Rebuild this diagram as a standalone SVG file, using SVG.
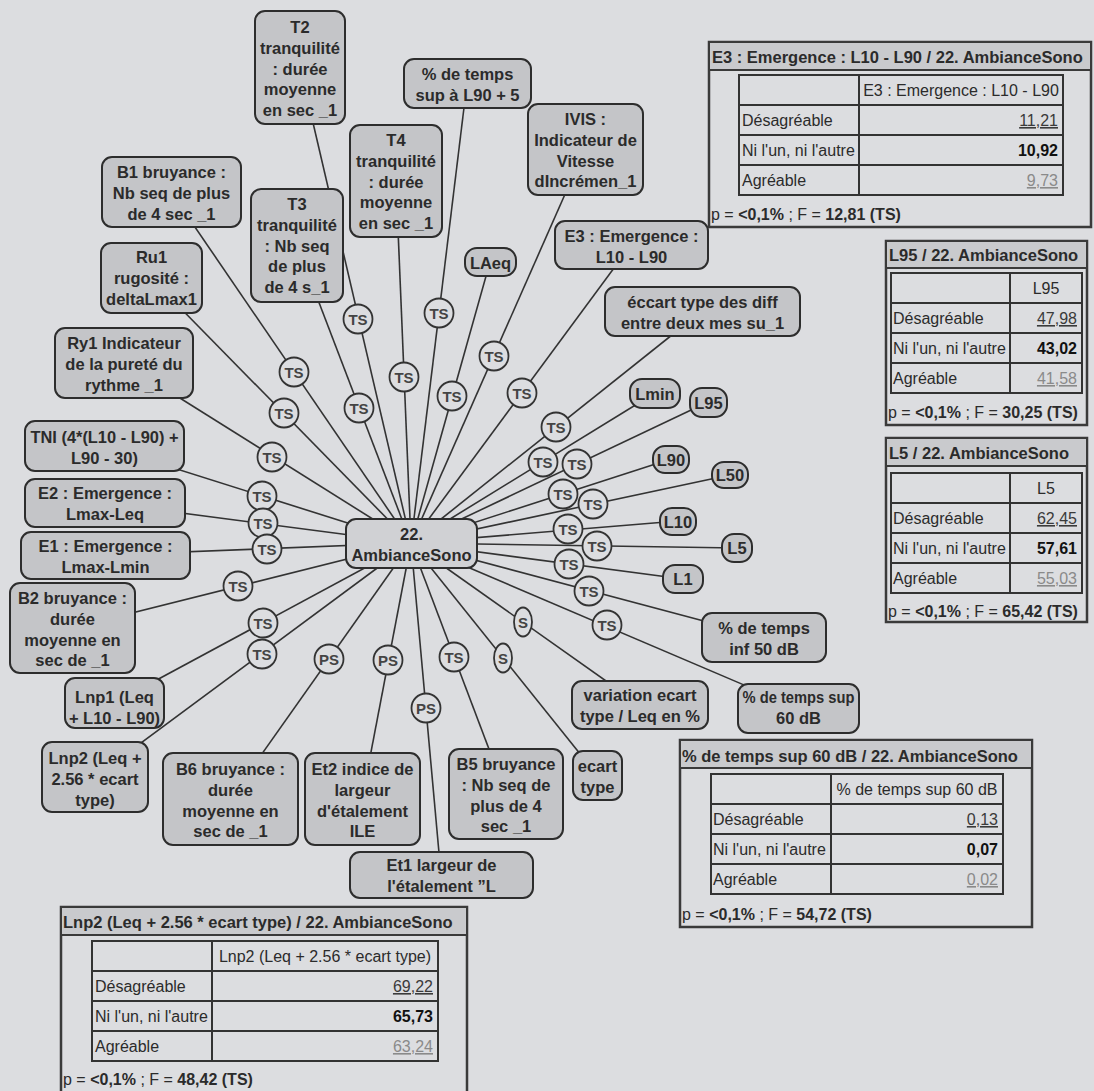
<svg xmlns="http://www.w3.org/2000/svg" width="1094" height="1091" viewBox="0 0 1094 1091">
<style>
.node rect{fill:#c4c5c8;stroke:#2d2d2d;stroke-width:2}
.node text{font-family:"Liberation Sans",Arial,sans-serif;font-weight:bold;font-size:16.5px;fill:#2b2b2b;text-anchor:middle}
.hub rect{fill:#d0d1d4;stroke:#2d2d2d;stroke-width:2}
.conn line{stroke:#333;stroke-width:1.6}
.mk circle,.mk ellipse{fill:#dcdde0;stroke:#333;stroke-width:1.8}
.mk text{font-family:"Liberation Sans",Arial,sans-serif;font-weight:bold;font-size:15px;fill:#444;text-anchor:middle}
.tbox{fill:#dcdde0;stroke:#3a3a3a;stroke-width:2.5}
.thead{fill:#c9cacd;stroke:#3a3a3a;stroke-width:2}
.grid{fill:none;stroke:#333;stroke-width:2}
.ttl{font-family:"Liberation Sans",Arial,sans-serif;font-weight:bold;font-size:16.5px;fill:#2b2b2b}
.cell{font-family:"Liberation Sans",Arial,sans-serif;font-size:16px;fill:#2b2b2b}
.hd{text-anchor:middle}
.v1{text-anchor:end;text-decoration:underline;fill:#3a3a3a}
.v2{text-anchor:end;font-weight:bold;fill:#111}
.v3{text-anchor:end;text-decoration:underline;fill:#8a8a8a}
.b{font-weight:bold}
</style>
<rect width="1094" height="1091" fill="#dcdde0"/>

<g id="connectors">
<g class="conn">
<line x1="411" y1="543" x2="300" y2="67"/>
<line x1="411" y1="543" x2="297" y2="245"/>
<line x1="411" y1="543" x2="396" y2="181"/>
<line x1="411" y1="543" x2="467" y2="83"/>
<line x1="411" y1="543" x2="585" y2="149"/>
<line x1="411" y1="543" x2="631" y2="245"/>
<line x1="411" y1="543" x2="490" y2="262"/>
<line x1="411" y1="543" x2="702" y2="311"/>
<line x1="411" y1="543" x2="655" y2="393"/>
<line x1="411" y1="543" x2="708" y2="402"/>
<line x1="411" y1="543" x2="671" y2="459"/>
<line x1="411" y1="543" x2="730" y2="475"/>
<line x1="411" y1="543" x2="678" y2="521"/>
<line x1="411" y1="543" x2="737" y2="548"/>
<line x1="411" y1="543" x2="683" y2="579"/>
<line x1="411" y1="543" x2="764" y2="637"/>
<line x1="411" y1="543" x2="798" y2="708"/>
<line x1="411" y1="543" x2="640" y2="705"/>
<line x1="411" y1="543" x2="597" y2="775"/>
<line x1="411" y1="543" x2="506" y2="794"/>
<line x1="411" y1="543" x2="441" y2="875"/>
<line x1="411" y1="543" x2="362" y2="799"/>
<line x1="411" y1="543" x2="230" y2="799"/>
<line x1="411" y1="543" x2="95" y2="777"/>
<line x1="411" y1="543" x2="114" y2="703"/>
<line x1="411" y1="543" x2="72" y2="628"/>
<line x1="411" y1="543" x2="105" y2="555"/>
<line x1="411" y1="543" x2="105" y2="503"/>
<line x1="411" y1="543" x2="104" y2="446"/>
<line x1="411" y1="543" x2="124" y2="363"/>
<line x1="411" y1="543" x2="151" y2="278"/>
<line x1="411" y1="543" x2="171" y2="192"/>
</g>
<g class="mk">
<circle cx="358" cy="319" r="14.5"/><text x="358" y="324.5">TS</text>
<circle cx="439" cy="313" r="14.5"/><text x="439" y="318.5">TS</text>
<circle cx="404" cy="377" r="14.5"/><text x="404" y="382.5">TS</text>
<circle cx="452" cy="396" r="14.5"/><text x="452" y="401.5">TS</text>
<circle cx="494" cy="356" r="14.5"/><text x="494" y="361.5">TS</text>
<circle cx="522" cy="393" r="14.5"/><text x="522" y="398.5">TS</text>
<circle cx="359" cy="408" r="14.5"/><text x="359" y="413.5">TS</text>
<circle cx="294" cy="372" r="14.5"/><text x="294" y="377.5">TS</text>
<circle cx="284" cy="413" r="14.5"/><text x="284" y="418.5">TS</text>
<circle cx="272" cy="457" r="14.5"/><text x="272" y="462.5">TS</text>
<circle cx="262" cy="496" r="14.5"/><text x="262" y="501.5">TS</text>
<circle cx="263" cy="523" r="14.5"/><text x="263" y="528.5">TS</text>
<circle cx="267" cy="549" r="14.5"/><text x="267" y="554.5">TS</text>
<circle cx="238" cy="586" r="14.5"/><text x="238" y="591.5">TS</text>
<circle cx="263" cy="623" r="14.5"/><text x="263" y="628.5">TS</text>
<circle cx="262" cy="654" r="14.5"/><text x="262" y="659.5">TS</text>
<circle cx="454" cy="657" r="14.5"/><text x="454" y="662.5">TS</text>
<circle cx="556" cy="427" r="14.5"/><text x="556" y="432.5">TS</text>
<circle cx="543" cy="462" r="14.5"/><text x="543" y="467.5">TS</text>
<circle cx="577" cy="464" r="14.5"/><text x="577" y="469.5">TS</text>
<circle cx="563" cy="494" r="14.5"/><text x="563" y="499.5">TS</text>
<circle cx="593" cy="504" r="14.5"/><text x="593" y="509.5">TS</text>
<circle cx="568" cy="529" r="14.5"/><text x="568" y="534.5">TS</text>
<circle cx="597" cy="546" r="14.5"/><text x="597" y="551.5">TS</text>
<circle cx="569" cy="564" r="14.5"/><text x="569" y="569.5">TS</text>
<circle cx="589" cy="591" r="14.5"/><text x="589" y="596.5">TS</text>
<circle cx="607" cy="625" r="14.5"/><text x="607" y="630.5">TS</text>
<circle cx="329" cy="659" r="14.5"/><text x="329" y="664.5">PS</text>
<circle cx="388" cy="660" r="14.5"/><text x="388" y="665.5">PS</text>
<circle cx="426" cy="708" r="14.5"/><text x="426" y="713.5">PS</text>
<ellipse cx="503" cy="658" rx="9" ry="14.5"/><text x="503" y="663.5">S</text>
<ellipse cx="523" cy="622" rx="9" ry="14.5"/><text x="523" y="627.5">S</text>
</g>
</g>

<g id="n-T2" class="node"><rect x="255" y="11" width="90" height="113" rx="10"/><text x="300" y="33">T2<tspan x="300" dy="20.8">tranquilité</tspan><tspan x="300" dy="20.8">: durée</tspan><tspan x="300" dy="20.8">moyenne</tspan><tspan x="300" dy="20.8">en sec _1</tspan></text></g>
<g id="n-T3" class="node"><rect x="251" y="189" width="92" height="113" rx="10"/><text x="297" y="210">T3<tspan x="297" dy="20.8">tranquilité</tspan><tspan x="297" dy="20.8">: Nb seq</tspan><tspan x="297" dy="20.8">de plus</tspan><tspan x="297" dy="20.8">de 4 s_1</tspan></text></g>
<g id="n-T4" class="node"><rect x="350" y="125" width="92" height="112" rx="10"/><text x="396" y="146">T4<tspan x="396" dy="20.8">tranquilité</tspan><tspan x="396" dy="20.8">: durée</tspan><tspan x="396" dy="20.8">moyenne</tspan><tspan x="396" dy="20.8">en sec _1</tspan></text></g>
<g id="n-L90p5" class="node"><rect x="404" y="59" width="127" height="49" rx="10"/><text x="467.5" y="80">% de temps<tspan x="467.5" dy="20.8">sup à L90 + 5</tspan></text></g>
<g id="n-IVIS" class="node"><rect x="528" y="104" width="115" height="91" rx="10"/><text x="585.5" y="125">IVIS :<tspan x="585.5" dy="20.8">Indicateur de</tspan><tspan x="585.5" dy="20.8">Vitesse</tspan><tspan x="585.5" dy="20.8">dIncrémen_1</tspan></text></g>
<g id="n-E3" class="node"><rect x="555" y="221" width="153" height="48" rx="10"/><text x="631.5" y="242">E3 : Emergence :<tspan x="631.5" dy="20.8">L10 - L90</tspan></text></g>
<g id="n-LAeq" class="node"><rect x="465" y="248" width="51" height="28" rx="12"/><text x="490.5" y="268.5">LAeq</text></g>
<g id="n-ecartdiff" class="node"><rect x="605" y="287" width="195" height="49" rx="10"/><text x="702.5" y="308">éccart type des diff<tspan x="702.5" dy="20.8">entre deux mes su_1</tspan></text></g>
<g id="n-Lmin" class="node"><rect x="630" y="379" width="50" height="29" rx="12"/><text x="655" y="399.5">Lmin</text></g>
<g id="n-L95" class="node"><rect x="690" y="388" width="37" height="29" rx="12"/><text x="708.5" y="408.5">L95</text></g>
<g id="n-L90" class="node"><rect x="653" y="446" width="36" height="27" rx="12"/><text x="671" y="465.5">L90</text></g>
<g id="n-L50" class="node"><rect x="712" y="462" width="36" height="26" rx="12"/><text x="730" y="481">L50</text></g>
<g id="n-L10" class="node"><rect x="660" y="508" width="36" height="27" rx="12"/><text x="678" y="527.5">L10</text></g>
<g id="n-L5" class="node"><rect x="722" y="534" width="30" height="28" rx="12"/><text x="737" y="554">L5</text></g>
<g id="n-L1" class="node"><rect x="663" y="565" width="40" height="28" rx="12"/><text x="683" y="585">L1</text></g>
<g id="n-inf50" class="node"><rect x="702" y="613" width="124" height="49" rx="10"/><text x="764" y="634">% de temps<tspan x="764" dy="20.8">inf 50 dB</tspan></text></g>
<g id="n-sup60" class="node"><rect x="738" y="684" width="121" height="49" rx="10"/><text x="798.5" y="703" textLength="112" lengthAdjust="spacingAndGlyphs">% de temps sup</text><text x="798.5" y="724">60 dB</text></g>
<g id="n-variation" class="node"><rect x="572" y="681" width="136" height="48" rx="10"/><text x="640" y="701">variation ecart<tspan x="640" dy="20.8">type / Leq en %</tspan></text></g>
<g id="n-ecart" class="node"><rect x="573" y="751" width="49" height="49" rx="10"/><text x="597.5" y="772">ecart<tspan x="597.5" dy="20.8">type</tspan></text></g>
<g id="n-B5" class="node"><rect x="449" y="749" width="114" height="90" rx="10"/><text x="506" y="770">B5 bruyance<tspan x="506" dy="20.8">: Nb seq de</tspan><tspan x="506" dy="20.8">plus de 4</tspan><tspan x="506" dy="20.8">sec _1</tspan></text></g>
<g id="n-Et1" class="node"><rect x="350" y="852" width="183" height="46" rx="10"/><text x="441.5" y="871">Et1 largeur de<tspan x="441.5" dy="20.8">l'étalement ”L</tspan></text></g>
<g id="n-Et2" class="node"><rect x="305" y="753" width="115" height="92" rx="10"/><text x="362.5" y="775">Et2 indice de<tspan x="362.5" dy="20.8">largeur</tspan><tspan x="362.5" dy="20.8">d'étalement</tspan><tspan x="362.5" dy="20.8">ILE</tspan></text></g>
<g id="n-B6" class="node"><rect x="163" y="753" width="135" height="92" rx="10"/><text x="230.5" y="775">B6 bruyance :<tspan x="230.5" dy="20.8">durée</tspan><tspan x="230.5" dy="20.8">moyenne en</tspan><tspan x="230.5" dy="20.8">sec de _1</tspan></text></g>
<g id="n-Lnp2" class="node"><rect x="42" y="742" width="106" height="70" rx="10"/><text x="95" y="764">Lnp2 (Leq +<tspan x="95" dy="20.8">2.56 * ecart</tspan><tspan x="95" dy="20.8">type)</tspan></text></g>
<g id="n-Lnp1" class="node"><rect x="65" y="678" width="99" height="50" rx="10"/><text x="114.5" y="703">Lnp1 (Leq<tspan x="114.5" dy="20.8">+ L10 - L90)</tspan></text></g>
<g id="n-B2" class="node"><rect x="10" y="583" width="125" height="90" rx="10"/><text x="72.5" y="604">B2 bruyance :<tspan x="72.5" dy="20.8">durée</tspan><tspan x="72.5" dy="20.8">moyenne en</tspan><tspan x="72.5" dy="20.8">sec de _1</tspan></text></g>
<g id="n-E1" class="node"><rect x="21" y="532" width="169" height="47" rx="10"/><text x="105.5" y="552">E1 : Emergence :<tspan x="105.5" dy="20.8">Lmax-Lmin</tspan></text></g>
<g id="n-E2" class="node"><rect x="25" y="479" width="160" height="48" rx="10"/><text x="105" y="499">E2 : Emergence :<tspan x="105" dy="20.8">Lmax-Leq</tspan></text></g>
<g id="n-TNI" class="node"><rect x="25" y="421" width="159" height="50" rx="10"/><text x="104.5" y="443" textLength="148" lengthAdjust="spacingAndGlyphs">TNI (4*(L10 - L90) +</text><text x="104.5" y="463.8">L90 - 30)</text></g>
<g id="n-Ry1" class="node"><rect x="55" y="328" width="138" height="70" rx="10"/><text x="124" y="349">Ry1 Indicateur<tspan x="124" dy="20.8">de la pureté du</tspan><tspan x="124" dy="20.8">rythme _1</tspan></text></g>
<g id="n-Ru1" class="node"><rect x="101" y="243" width="101" height="70" rx="10"/><text x="151.5" y="263">Ru1<tspan x="151.5" dy="20.8">rugosité :</tspan><tspan x="151.5" dy="20.8">deltaLmax1</tspan></text></g>
<g id="n-B1" class="node"><rect x="102" y="157" width="139" height="70" rx="10"/><text x="171.5" y="178">B1 bruyance :<tspan x="171.5" dy="20.8">Nb seq de plus</tspan><tspan x="171.5" dy="20.8">de 4 sec _1</tspan></text></g>

<g id="n-hub" class="node hub"><rect x="346" y="519" width="131" height="49" rx="10"/><text x="411.5" y="540">22.<tspan x="411.5" dy="20.8">AmbianceSono</tspan></text></g>

<g id="t-E3">
<rect class="tbox" x="709" y="42" width="382" height="185"/>
<rect class="thead" x="709" y="42" width="382" height="28"/>
<text class="ttl" x="712" y="63">E3 : Emergence : L10 - L90 / 22. AmbianceSono</text>
<rect class="grid" x="739" y="75" width="324" height="120"/>
<path class="grid" d="M739 105H1063M739 135H1063M739 165H1063M859 75V195"/>
<text class="cell hd" x="961" y="96">E3 : Emergence : L10 - L90</text>
<text class="cell" x="742" y="126">Désagréable</text><text class="cell v1" x="1058" y="126">11,21</text>
<text class="cell" x="742" y="156">Ni l'un, ni l'autre</text><text class="cell v2" x="1058" y="156">10,92</text>
<text class="cell" x="742" y="186">Agréable</text><text class="cell v3" x="1058" y="186">9,73</text>
<text class="cell" x="711" y="220">p = <tspan class="b">&lt;0,1%</tspan> ; F = <tspan class="b">12,81 (TS)</tspan></text>
</g>

<g id="t-L95">
<rect class="tbox" x="886" y="241" width="201" height="184"/>
<rect class="thead" x="886" y="241" width="201" height="27"/>
<text class="ttl" x="889" y="261">L95 / 22. AmbianceSono</text>
<rect class="grid" x="891" y="273" width="191" height="120"/>
<path class="grid" d="M891 303H1082M891 333H1082M891 363H1082M1010 273V393"/>
<text class="cell hd" x="1046" y="294">L95</text>
<text class="cell" x="893" y="324">Désagréable</text><text class="cell v1" x="1077" y="324">47,98</text>
<text class="cell" x="893" y="354">Ni l'un, ni l'autre</text><text class="cell v2" x="1077" y="354">43,02</text>
<text class="cell" x="893" y="384">Agréable</text><text class="cell v3" x="1077" y="384">41,58</text>
<text class="cell" x="888" y="418">p = <tspan class="b">&lt;0,1%</tspan> ; F = <tspan class="b">30,25 (TS)</tspan></text>
</g>

<g id="t-L5">
<rect class="tbox" x="886" y="438" width="201" height="184"/>
<rect class="thead" x="886" y="438" width="201" height="28"/>
<text class="ttl" x="889" y="459">L5 / 22. AmbianceSono</text>
<rect class="grid" x="891" y="473" width="191" height="120"/>
<path class="grid" d="M891 503H1082M891 533H1082M891 563H1082M1010 473V593"/>
<text class="cell hd" x="1046" y="494">L5</text>
<text class="cell" x="893" y="524">Désagréable</text><text class="cell v1" x="1077" y="524">62,45</text>
<text class="cell" x="893" y="554">Ni l'un, ni l'autre</text><text class="cell v2" x="1077" y="554">57,61</text>
<text class="cell" x="893" y="584">Agréable</text><text class="cell v3" x="1077" y="584">55,03</text>
<text class="cell" x="888" y="617">p = <tspan class="b">&lt;0,1%</tspan> ; F = <tspan class="b">65,42 (TS)</tspan></text>
</g>

<g id="t-sup60">
<rect class="tbox" x="680" y="740" width="352" height="187"/>
<rect class="thead" x="680" y="740" width="352" height="28"/>
<text class="ttl" x="682" y="762">% de temps sup 60 dB / 22. AmbianceSono</text>
<rect class="grid" x="711" y="774" width="292" height="120"/>
<path class="grid" d="M711 804H1003M711 834H1003M711 864H1003M831 774V894"/>
<text class="cell hd" x="917" y="795">% de temps sup 60 dB</text>
<text class="cell" x="713" y="825">Désagréable</text><text class="cell v1" x="998" y="825">0,13</text>
<text class="cell" x="713" y="855">Ni l'un, ni l'autre</text><text class="cell v2" x="998" y="855">0,07</text>
<text class="cell" x="713" y="885">Agréable</text><text class="cell v3" x="998" y="885">0,02</text>
<text class="cell" x="682" y="920">p = <tspan class="b">&lt;0,1%</tspan> ; F = <tspan class="b">54,72 (TS)</tspan></text>
</g>

<g id="t-Lnp2">
<rect class="tbox" x="61" y="907" width="406" height="190"/>
<rect class="thead" x="61" y="907" width="406" height="28"/>
<text class="ttl" x="63" y="928">Lnp2 (Leq + 2.56 * ecart type) / 22. AmbianceSono</text>
<rect class="grid" x="92" y="941" width="346" height="120"/>
<path class="grid" d="M92 971H438M92 1001H438M92 1031H438M212 941V1061"/>
<text class="cell hd" x="325" y="962">Lnp2 (Leq + 2.56 * ecart type)</text>
<text class="cell" x="95" y="992">Désagréable</text><text class="cell v1" x="433" y="992">69,22</text>
<text class="cell" x="95" y="1022">Ni l'un, ni l'autre</text><text class="cell v2" x="433" y="1022">65,73</text>
<text class="cell" x="95" y="1052">Agréable</text><text class="cell v3" x="433" y="1052">63,24</text>
<text class="cell" x="63" y="1085">p = <tspan class="b">&lt;0,1%</tspan> ; F = <tspan class="b">48,42 (TS)</tspan></text>
</g>
</svg>
